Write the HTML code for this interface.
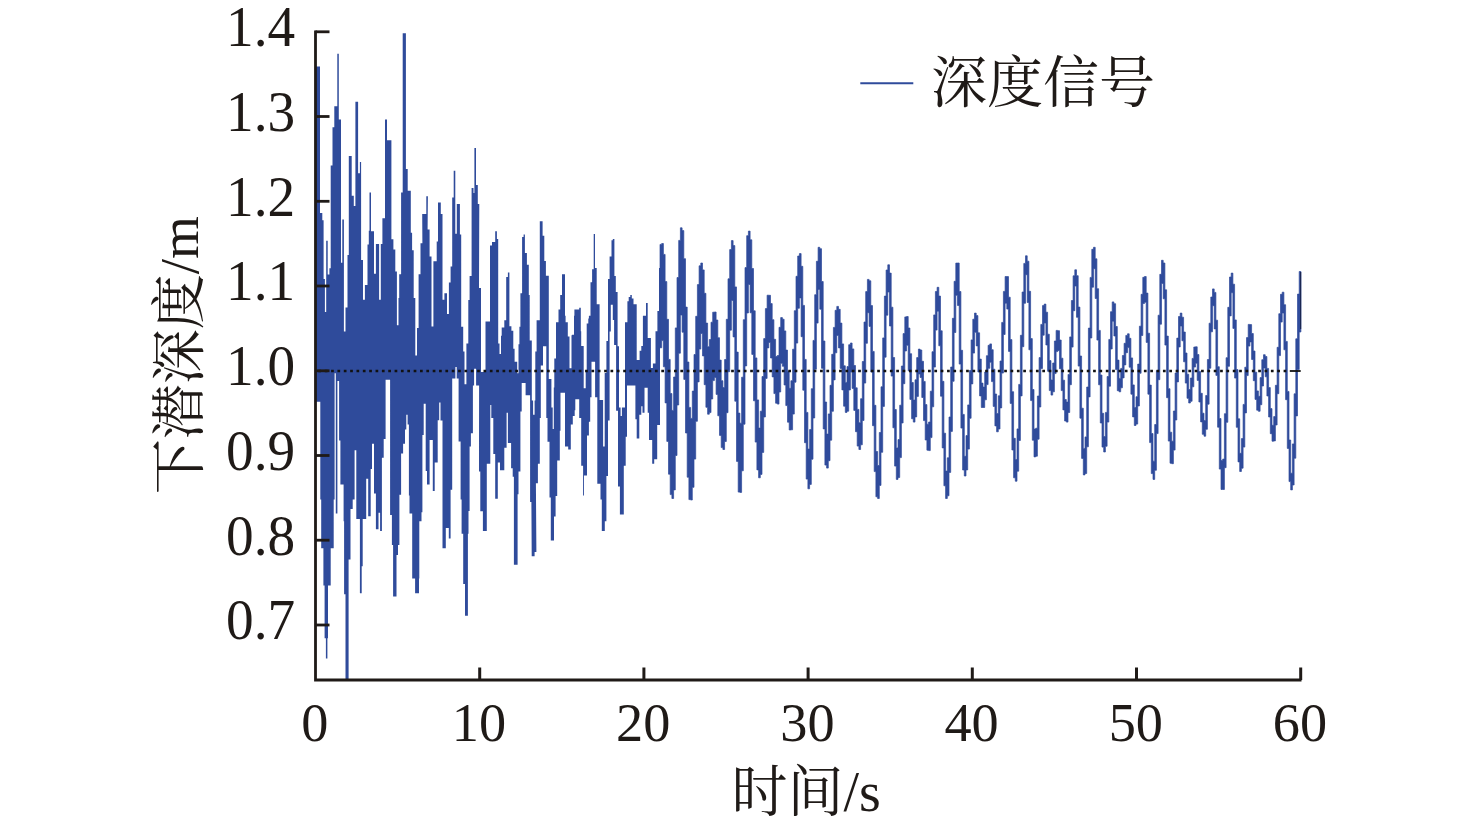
<!DOCTYPE html>
<html lang="zh"><head><meta charset="utf-8"><title>深度信号</title>
<style>html,body{margin:0;padding:0;background:#fff}body{width:1476px;height:828px;overflow:hidden;font-family:"Liberation Serif",serif}svg{display:block}</style>
</head><body>
<svg width="1476" height="828" viewBox="0 0 1476 828">
<rect width="1476" height="828" fill="#fff"/>
<polygon points="315.7,66.6 320,66.6 320,213.1 322.3,213.1 322.3,220.2 323.6,220.2 323.6,279 324.9,279 324.9,311.9 326.2,311.9 326.2,240.8 327.7,240.8 327.7,274.5 329.4,274.5 329.4,268.3 330.7,268.3 330.7,165.4 332.5,165.4 332.5,127.2 334.3,127.2 334.3,106.3 337.3,106.3 337.3,53.8 338.8,53.8 338.8,119.4 341,119.4 341,262.8 342.3,262.8 342.3,219.5 343.9,219.5 343.9,331.6 345.5,331.6 345.5,307.4 347.5,307.4 347.5,255.1 348.8,255.1 348.8,156.1 351.7,156.1 351.7,195.7 353.8,195.7 353.8,206 355.4,206 355.4,101.8 358.1,101.8 358.1,173.3 359.9,173.3 359.9,162 361.1,162 361.1,260 363,260 363,299.7 364.9,299.7 364.9,285.1 367.5,285.1 367.5,244.5 368.8,244.5 368.8,230.8 369.5,230.8 369.5,192.4 371,192.4 371,231.2 374,231.2 374,273.8 375.9,273.8 375.9,244.1 379.1,244.1 379.1,299.7 380.8,299.7 380.8,244.1 382.4,244.1 382.4,218.2 385,218.2 385,119.4 387,119.4 387,140.2 391.4,140.2 391.4,239.3 393.4,239.3 393.4,249.6 395.3,249.6 395.3,271.6 396.9,271.6 396.9,325.2 398.5,325.2 398.5,298 399.2,298 399.2,274.2 401.1,274.2 401.1,192.4 402.7,192.4 402.7,33.3 405.9,33.3 405.9,168.9 407.7,168.9 407.7,190.8 410.8,190.8 410.8,232.8 412.1,232.8 412.1,250.2 413.7,250.2 413.7,298 415.3,298 415.3,355.6 417,355.6 417,328.1 418.6,328.1 418.6,274.2 420.5,274.2 420.5,243.2 422.4,243.2 422.2,214 426.3,214 426.3,196.3 427.9,196.3 427.6,229.5 429.6,229.5 429.6,256.6 431.5,256.6 431.5,326.4 433.4,326.4 433.4,261.3 436.7,261.3 436.7,241.5 438,241.5 438,202.5 440.8,202.5 440.8,214 442.5,214 442.5,299.7 444.4,299.7 444.4,293.2 447,293.2 447,313.9 448.9,313.9 448.9,282.5 450.6,282.5 450.6,266.4 452.2,266.4 452.2,197.6 453.7,197.6 453.7,170.7 455.3,170.7 455.3,233.7 456.8,233.7 456.8,204 459.9,204 459.9,234.4 461.2,234.4 461.2,326.8 463.2,326.8 463.2,351.4 464.5,351.4 464.5,384.3 466.4,384.3 466.4,343.6 468.3,343.6 468.3,300 469.6,300 469.6,276 471.6,276 471.6,187.9 473.5,187.9 473.5,193 474.4,193 474.4,148 476,148 476,185 477.8,185 477.8,204 479.3,204 479,288 481,288 481,372 485.5,372 485.5,321.6 490,321.6 490,245.4 492,245.4 492,242.1 495.2,242.1 495.2,231.2 496.9,231.2 496.9,238.9 498.2,238.9 498.2,343.6 499.5,343.6 499.5,353.9 501,353.9 501,335.8 501.7,335.8 501.7,327.4 504.3,327.4 504.3,320.3 506.2,320.3 506.2,277 507.9,277 507.9,272.5 509.4,272.5 509.4,326.2 511.4,326.2 511.4,330.7 513.3,330.7 513.3,348.8 514.6,348.8 514.6,361.7 517.2,361.7 517.2,373.3 518.5,373.3 518.5,344.2 519.4,344.2 519.4,326.8 520.4,326.8 520.4,293.2 522.1,293.2 522.1,237 523.6,237 523.6,234.4 524.9,234.4 524.9,253.1 526.9,253.1 526.9,264.8 528.8,264.8 528.8,295.1 529.7,295.1 529.7,340.4 531.8,340.4 531.8,400.5 533.1,400.5 533.1,414.7 534.6,414.7 534.6,400.5 535.3,400.5 535.3,351.6 536.6,351.6 536.6,320.3 538.2,320.3 538.2,320.3 539.8,320.3 539.8,221.2 542.6,221.2 542.6,235.7 544.3,235.7 544.3,260.9 545.9,260.9 545.9,275.7 548.8,275.7 548.8,379.1 551.4,379.1 551.4,407.6 552.7,407.6 552.7,428.9 553.8,428.9 553.8,387.5 554.3,387.5 554.3,358.5 556,358.5 556,322.3 558.5,322.3 558.5,309.4 560.2,309.4 560.2,295.1 562,295.1 562,274.2 565,274.2 565,315.8 565.6,315.8 565.6,322.3 567.8,322.3 567.8,336.5 569.5,336.5 569.5,368.2 571.5,368.2 571.5,335.2 572.1,335.2 572.1,334.8 574,334.8 574,315.8 574.4,315.8 574.4,309.4 579.2,309.4 579.2,307.8 580.8,307.8 580.8,331.3 581.2,331.3 581.2,345.9 583.7,345.9 583.7,388.2 585.7,388.2 585.7,370.1 586.7,370.1 586.7,323.6 588.3,323.6 588.3,318.4 588.9,318.4 588.9,315.8 590.5,315.8 590.5,282.2 592.1,282.2 592.1,269.3 593.7,269.3 593.7,234.1 595,234.1 595,268 596.7,268 596.7,304.2 599.6,304.2 599.6,400 603.1,400 603.1,446.4 604.7,446.4 604.7,372.9 606.4,372.9 606.4,341 608,341 608,279 609.6,279 609.6,256.6 611.5,256.6 611.5,240.2 612.8,240.2 612.8,238.9 614.4,238.9 614.4,276 615.8,276 615.8,291.9 617.6,291.9 617.6,346.2 619,346.2 619,407.6 620.6,407.6 620.6,416 621.9,416 621.9,407.6 625,407.6 625,322.3 627.4,322.3 627.4,301.3 628.7,301.3 628.7,297.1 630.3,297.1 630.3,295.1 631.8,295.1 631.8,298.4 633.5,298.4 633.5,304.2 636.7,304.2 636.7,360 639.6,360 639.6,350.7 641.3,350.7 641.3,345.9 642.9,345.9 642.9,315.8 646,315.8 646,303.1 647.7,303.1 647.7,338 650.9,338 650.9,368 652.9,368 652.9,363.6 655.5,363.6 655.5,331.3 657.4,331.3 657.4,310.9 659,310.9 659,268 660,268 660,425 657.2,425 657.2,459.3 654.2,459.3 654.2,463.8 652.2,463.8 652.2,439.9 649,439.9 649,412.8 647.7,412.8 647.7,387.8 644.5,387.8 644.5,412.8 642.5,412.8 642.5,406.3 641.3,406.3 641.3,414.7 639.3,414.7 639.3,438.6 636.7,438.6 636.7,419.2 635.4,419.2 635.4,385.6 627,385.6 627,436.7 625.7,436.7 625.7,465.7 623.8,465.7 623.8,514.6 619.9,514.6 619.9,486.4 618,486.4 618,410.8 616.1,410.8 616.1,345 614.1,345 614.1,320 612.8,320 612.8,304.7 610.8,304.7 610.8,331.5 609.6,331.5 609.6,420.5 608,420.5 608,476.1 606.4,476.1 606.4,521.3 604.8,521.3 604.8,531 601.8,531 601.8,499.4 600.5,499.4 600.5,483.8 597.3,483.8 597.3,397.2 595.1,397.2 595.1,361.7 591.5,361.7 591.5,397.2 590.2,397.2 590.2,421.8 588.9,421.8 588.9,435.4 587,435.4 587,475.4 584,475.4 584,495.5 583.1,495.5 583.1,465.7 581.2,465.7 581.2,417.9 579.2,417.9 579.2,399.2 575.3,399.2 575.3,410.2 574.7,410.2 574.7,416 572.8,416 572.8,424.4 570.8,424.4 570.8,449.6 568.2,449.6 568.2,446.4 565,446.4 565,392.7 560.5,392.7 560.5,430.8 559.8,430.8 559.8,460.6 557.2,460.6 557.2,496.1 555.6,496.1 555.6,516.5 554,516.5 554,540.5 550.8,540.5 550.8,497.4 549.5,497.4 549.5,441.8 547.5,441.8 547.5,417.9 546.3,417.9 546.3,346.2 543,346.2 543,365.6 540.8,365.6 540.8,417.9 539.8,417.9 539.8,463.8 537.9,463.8 537.9,483.2 535.9,483.2 536.4,552.1 534.6,552.1 534.6,556.2 531.7,556.2 531.4,501.9 530.1,501.9 530.1,395.3 525.6,395.3 525.6,383 521.7,383 521.7,411.5 520.4,411.5 520.4,471.6 518.5,471.6 518.5,494.2 517.6,494.2 517.6,564.8 513.9,564.8 513.9,476.7 512.7,476.7 512.7,468.3 511.1,468.3 511.1,443.1 507.9,443.1 507.9,412.8 506.6,412.8 506.6,447.7 504.3,447.7 504.3,470.3 500,470.3 500,462.5 497.8,462.5 497.8,498.7 495.2,498.7 495.2,454.1 493.3,454.1 493.3,417.9 491.3,417.9 491.3,405 490.3,405 490.3,463.8 486.8,463.8 486.8,531 482.9,531 482.9,511.2 480.3,511.2 480.3,471.6 479,471.6 479.1,385.6 476.1,385.6 476.1,368.8 474.1,368.8 474.1,385.6 472.9,385.6 472.9,433.2 470.9,433.2 470.9,446.6 469.6,446.6 469.6,510.9 468.5,510.9 468.5,533.7 467.9,533.7 467.9,615.7 465,615.7 465,584.1 463.2,584.1 463.2,533.7 461.6,533.7 461.6,499.6 460.6,499.6 460.6,441.4 458.6,441.4 458.6,378.5 456.7,378.5 456.7,366.9 455.4,366.9 455.4,378.5 452.2,378.5 452.2,489.7 450.6,489.7 450.6,538.6 448.8,538.6 448.8,528 445.8,528 445.8,548.3 442.5,548.3 442.5,420.5 440.5,420.5 440.5,402.4 439.2,402.4 439.2,420.3 437.7,420.3 437.7,462.5 434.7,462.5 434.7,491 432.8,491 432.8,439.9 429.6,439.9 429.6,484.5 427,484.5 427,470.9 425.7,470.9 425.7,403.7 423.7,403.7 423.7,435 422.4,435 422.4,512.3 421.5,512.3 421.5,521.3 419.3,521.3 419.3,578.6 419,578.6 419,593.2 415.1,593.2 415.1,578.6 412.2,578.6 412.2,513.4 409.5,513.4 409.5,495.5 408.9,495.5 408.9,424.6 407.6,424.6 407.6,414.7 406.3,414.7 406.3,429.6 405,429.6 405,443.8 403.1,443.8 403.1,453.5 401.1,453.5 401.1,494.8 399.4,494.8 399.4,545 398,545 398,555.1 396.5,555.1 396.5,596.5 393.1,596.5 393.1,545 391.9,545 391.9,515 390.1,515 390.1,379.8 385.6,379.8 385.6,438.9 383.7,438.9 383.7,457.7 381.9,457.7 381.9,531 380.1,531 380.1,512.8 378.5,512.8 378.5,529.2 375.9,529.2 375.9,493.5 374,493.5 374,443.8 372,443.8 372,469 370.7,469 370.7,516.2 368.2,516.2 368.2,478.7 366.2,478.7 366.2,519 362.7,519 362.7,566.3 361.7,566.3 361.7,593.2 359.9,593.2 359.9,519 356.3,519 356.3,450.2 354.6,450.2 354.6,499.4 352.7,499.4 352.7,509 350.5,509 350.5,559.5 348.6,559.5 348.6,679 345.5,679 345.5,594.3 344.1,594.3 344.1,521.3 343.6,521.3 343.6,484.5 340.4,484.5 340.4,440.5 339.1,440.5 339.1,381 337.4,381 337.4,513.4 335.8,513.4 335.8,373.3 334.6,373.3 334.6,499.4 333.7,499.4 333.7,548.3 330.7,548.3 330.7,585.4 328,585.4 328,638.2 327.4,638.2 327.4,658.5 325.9,658.5 325.9,638.2 324.6,638.2 324.6,585.4 323.4,585.4 323.4,548.3 321.2,548.3 321.2,499.4 320.3,499.4 320.3,401.8 317.1,401.8 317.1,401.8 315.7,401.8" fill="#2f4b9b"/>
<polygon points="660,244.4 661.7,244.4 661.7,243.5 663.4,243.5 663.4,254.4 665.1,254.4 665.1,281.6 666.8,281.6 666.8,319.3 668.5,319.3 668.5,359.4 670.2,359.4 670.2,393.5 671.9,393.5 671.9,410.4 673.6,410.4 673.6,377 675.3,377 675.3,327.9 677,327.9 677,277.5 678.7,277.5 678.7,240.4 680.4,240.4 680.4,227.8 682.1,227.8 682.1,230.6 683.8,230.6 683.8,258.7 685.5,258.7 685.5,307.1 687.2,307.1 687.2,362 688.9,362 688.9,407.4 690.6,407.4 690.6,418.4 692.3,418.4 692.3,391.1 694,391.1 694,354.5 695.7,354.5 695.7,316.3 697.4,316.3 697.4,284.6 699.1,284.6 699.1,265.8 700.8,265.8 700.8,263 702.5,263 702.5,269.9 704.2,269.9 704.2,293.3 705.9,293.3 705.9,323.1 707.6,323.1 707.6,346.7 709.3,346.7 709.3,339.5 711,339.5 711,322.2 712.7,322.2 712.7,312.2 714.4,312.2 714.4,312 716.1,312 716.1,320 717.8,320 717.8,337.7 719.5,337.7 719.5,360.1 721.2,360.1 721.2,380.7 722.9,380.7 722.9,387.6 724.6,387.6 724.6,359.5 726.3,359.5 726.3,319.3 728,319.3 728,278.8 729.7,278.8 729.7,249.6 731.4,249.6 731.4,240.6 733.1,240.6 733.1,245.6 734.8,245.6 734.8,286.9 736.5,286.9 736.5,352.1 738.2,352.1 738.2,413.1 739.9,413.1 739.9,423.2 741.6,423.2 741.6,377.2 743.3,377.2 743.3,319.7 745,319.7 745,267.6 746.7,267.6 746.7,235.7 748.4,235.7 748.4,231.1 750.1,231.1 750.1,239.8 751.8,239.8 751.8,268.5 753.5,268.5 753.5,310.8 755.2,310.8 755.2,357.9 756.9,357.9 756.9,399.9 758.6,399.9 758.6,428.1 760.3,428.1 760.3,411.2 762,411.2 762,376.5 763.7,376.5 763.7,338.6 765.4,338.6 765.4,308.6 767.1,308.6 767.1,295.2 768.8,295.2 768.8,295.3 770.5,295.3 770.5,303.6 772.2,303.6 772.2,319.7 773.9,319.7 773.9,339.3 775.6,339.3 775.6,356.5 777.3,356.5 777.3,355.5 779,355.5 779,327.3 780.7,327.3 780.7,317.6 782.4,317.6 782.4,319.2 784.1,319.2 784.1,330.9 785.8,330.9 785.8,350.1 787.5,350.1 787.5,371.3 789.2,371.3 789.2,388.3 790.9,388.3 790.9,380.7 792.6,380.7 792.6,349.2 794.3,349.2 794.3,310.7 796,310.7 796,276.3 797.7,276.3 797.7,256 799.4,256 799.4,253.6 801.1,253.6 801.1,266.3 802.8,266.3 802.8,305.4 804.5,305.4 804.5,359.4 806.2,359.4 806.2,412.4 807.9,412.4 807.9,449.1 809.6,449.1 809.6,429.6 811.3,429.6 811.3,388.7 813,388.7 813,340.4 814.7,340.4 814.7,294.7 816.4,294.7 816.4,261.3 818.1,261.3 818.1,247.3 819.8,247.3 819.8,248.7 821.5,248.7 821.5,281.5 823.2,281.5 823.2,341 824.9,341 824.9,402 826.6,402 826.6,434.1 828.3,434.1 828.3,413.9 830,413.9 830,385.3 831.7,385.3 831.7,354.3 833.4,354.3 833.4,327.4 835.1,327.4 835.1,310.3 836.8,310.3 836.8,306.4 838.5,306.4 838.5,309.3 840.2,309.3 840.2,323.1 841.9,323.1 841.9,343.9 843.6,343.9 843.6,365.8 845.3,365.8 845.3,382.4 847,382.4 847,366.5 848.7,366.5 848.7,344.7 850.4,344.7 850.4,343 852.1,343 852.1,348.9 853.8,348.9 853.8,365.5 855.5,365.5 855.5,387.8 857.2,387.8 857.2,409.4 858.9,409.4 858.9,422.7 860.6,422.7 860.6,398.7 862.3,398.7 862.3,361.5 864,361.5 864,322 865.7,322 865.7,291.6 867.4,291.6 867.4,279.4 869.1,279.4 869.1,280.8 870.8,280.8 870.8,305.6 872.5,305.6 872.5,351.4 874.2,351.4 874.2,405.3 875.9,405.3 875.9,451.5 877.6,451.5 877.6,465.5 879.3,465.5 879.3,432.5 881,432.5 881,386.8 882.7,386.8 882.7,337.9 884.4,337.9 884.4,296.1 886.1,296.1 886.1,270 887.8,270 887.8,264.8 889.5,264.8 889.5,273.1 891.2,273.1 891.2,307.2 892.9,307.2 892.9,357.5 894.6,357.5 894.6,409.5 896.3,409.5 896.3,447.9 898,447.9 898,439.6 899.7,439.6 899.7,405.2 901.4,405.2 901.4,366 903.1,366 903.1,333.6 904.8,333.6 904.8,316.9 906.5,316.9 906.5,316.5 908.2,316.5 908.2,328 909.9,328 909.9,353.7 911.6,353.7 911.6,382.5 913.3,382.5 913.3,400.1 915,400.1 915,379.8 916.7,379.8 916.7,357.6 918.4,357.6 918.4,349.1 920.1,349.1 920.1,350 921.8,350 921.8,361.3 923.5,361.3 923.5,381.4 925.2,381.4 925.2,404.6 926.9,404.6 926.9,424.2 928.6,424.2 928.6,422 930.3,422 930.3,391.2 932,391.2 932,351.7 933.7,351.7 933.7,314.9 935.4,314.9 935.4,291.5 937.1,291.5 937.1,287.3 938.8,287.3 938.8,296.1 940.5,296.1 940.5,330.8 942.2,330.8 942.2,381.3 943.9,381.3 943.9,433.2 945.6,433.2 945.6,471.1 947.3,471.1 947.3,457.8 949,457.8 949,417 950.7,417 950.7,367 952.4,367 952.4,318.3 954.1,318.3 954.1,281.3 955.8,281.3 955.8,263.1 957.5,263.1 957.5,263 959.2,263 959.2,291.5 960.9,291.5 960.9,350.3 962.6,350.3 962.6,414.4 964.3,414.4 964.3,456.3 966,456.3 966,435.6 967.7,435.6 967.7,404.9 969.4,404.9 969.4,370.5 971.1,370.5 971.1,339.9 972.8,339.9 972.8,319.2 974.5,319.2 974.5,313.1 976.2,313.1 976.2,315.6 977.9,315.6 977.9,332.8 979.6,332.8 979.6,359.1 981.3,359.1 981.3,383.1 983,383.1 983,387.1 984.7,387.1 984.7,372 986.4,372 986.4,355.7 988.1,355.7 988.1,345.3 989.8,345.3 989.8,343.9 991.5,343.9 991.5,349.7 993.2,349.7 993.2,369.2 994.9,369.2 994.9,394 996.6,394 996.6,413.6 998.3,413.6 998.3,395.8 1000,395.8 1000,361 1001.7,361 1001.7,322.4 1003.4,322.4 1003.4,291.4 1005.1,291.4 1005.1,276.5 1006.8,276.5 1006.8,276.6 1008.5,276.6 1008.5,297.2 1010.2,297.2 1010.2,339.6 1011.9,339.6 1011.9,391.7 1013.6,391.7 1013.6,438.3 1015.3,438.3 1015.3,459.6 1017,459.6 1017,428.9 1018.7,428.9 1018.7,384.4 1020.4,384.4 1020.4,335.3 1022.1,335.3 1022.1,292 1023.8,292 1023.8,263.4 1025.5,263.4 1025.5,255.8 1027.2,255.8 1027.2,261.2 1028.9,261.2 1028.9,291.3 1030.6,291.3 1030.6,338.6 1032.3,338.6 1032.3,389.5 1034,389.5 1034,429.1 1035.7,429.1 1035.7,428.2 1037.4,428.2 1037.4,396 1039.1,396 1039.1,357.6 1040.8,357.6 1040.8,324.4 1042.5,324.4 1042.5,305.6 1044.2,305.6 1044.2,304.1 1045.9,304.1 1045.9,312.2 1047.6,312.2 1047.6,334.2 1049.3,334.2 1049.3,360.6 1051,360.6 1051,379.9 1052.7,379.9 1052.7,363 1054.4,363 1054.4,341 1056.1,341 1056.1,330.4 1057.8,330.4 1057.8,330.7 1059.5,330.7 1059.5,340 1061.2,340 1061.2,358.2 1062.9,358.2 1062.9,380.2 1064.6,380.2 1064.6,399.5 1066.3,399.5 1066.3,402.1 1068,402.1 1068,374.4 1069.7,374.4 1069.7,336.9 1071.4,336.9 1071.4,300.5 1073.1,300.5 1073.1,275.8 1074.8,275.8 1074.8,269.8 1076.5,269.8 1076.5,275.7 1078.2,275.7 1078.2,307.1 1079.9,307.1 1079.9,356 1081.6,356 1081.6,408.2 1083.3,408.2 1083.3,448.4 1085,448.4 1085,436.9 1086.7,436.9 1086.7,387 1088.4,387 1088.4,328.1 1090.1,328.1 1090.1,277.4 1091.8,277.4 1091.8,249.3 1093.5,249.3 1093.5,247.3 1095.2,247.3 1095.2,258.8 1096.9,258.8 1096.9,288.7 1098.6,288.7 1098.6,330.4 1100.3,330.4 1100.3,375 1102,375 1102,413.3 1103.7,413.3 1103.7,436.6 1105.4,436.6 1105.4,412.4 1107.1,412.4 1107.1,376.5 1108.8,376.5 1108.8,339.4 1110.5,339.4 1110.5,311.7 1112.2,311.7 1112.2,301.9 1113.9,301.9 1113.9,303.7 1115.6,303.7 1115.6,326.5 1117.3,326.5 1117.3,360.1 1119,360.1 1119,378.4 1120.7,378.4 1120.7,368.4 1122.4,368.4 1122.4,355.5 1124.1,355.5 1124.1,343.3 1125.8,343.3 1125.8,335.4 1127.5,335.4 1127.5,333.8 1129.2,333.8 1129.2,338.3 1130.9,338.3 1130.9,357.9 1132.6,357.9 1132.6,384.9 1134.3,384.9 1134.3,407.6 1136,407.6 1136,396.7 1137.7,396.7 1137.7,364.1 1139.4,364.1 1139.4,326.2 1141.1,326.2 1141.1,294.3 1142.8,294.3 1142.8,277.3 1144.5,277.3 1144.5,276.5 1146.2,276.5 1146.2,293.1 1147.9,293.1 1147.9,333.2 1149.6,333.2 1149.6,385.1 1151.3,385.1 1151.3,433.5 1153,433.5 1153,461.2 1154.7,461.2 1154.7,424.5 1156.4,424.5 1156.4,370.6 1158.1,370.6 1158.1,315.2 1159.8,315.2 1159.8,274.3 1161.5,274.3 1161.5,260.3 1163.2,260.3 1163.2,263 1164.9,263 1164.9,289.8 1166.6,289.8 1166.6,336.1 1168.3,336.1 1168.3,388.7 1170,388.7 1170,432.2 1171.7,432.2 1171.7,441.2 1173.4,441.2 1173.4,411 1175.1,411 1175.1,373 1176.8,373 1176.8,338.1 1178.5,338.1 1178.5,316.5 1180.2,316.5 1180.2,313.1 1181.9,313.1 1181.9,317.2 1183.6,317.2 1183.6,332 1185.3,332 1185.3,353 1187,353 1187,374.2 1188.7,374.2 1188.7,389.5 1190.4,389.5 1190.4,378 1192.1,378 1192.1,358.4 1193.8,358.4 1193.8,347 1195.5,347 1195.5,346.8 1197.2,346.8 1197.2,354.5 1198.9,354.5 1198.9,371.6 1200.6,371.6 1200.6,393.3 1202.3,393.3 1202.3,413.2 1204,413.2 1204,420.6 1205.7,420.6 1205.7,395.5 1207.4,395.5 1207.4,359.5 1209.1,359.5 1209.1,323.2 1210.8,323.2 1210.8,297 1212.5,297 1212.5,288.9 1214.2,288.9 1214.2,292.4 1215.9,292.4 1215.9,320.2 1217.6,320.2 1217.6,366.7 1219.3,366.7 1219.3,418.5 1221,418.5 1221,460.5 1222.7,460.5 1222.7,459.1 1224.4,459.1 1224.4,413.7 1226.1,413.7 1226.1,357.7 1227.8,357.7 1227.8,307.3 1229.5,307.3 1229.5,277 1231.2,277 1231.2,273.1 1232.9,273.1 1232.9,284.2 1234.6,284.2 1234.6,319.9 1236.3,319.9 1236.3,369.6 1238,369.6 1238,418.8 1239.7,418.8 1239.7,453.3 1241.4,453.3 1241.4,438.6 1243.1,438.6 1243.1,404.4 1244.8,404.4 1244.8,367.2 1246.5,367.2 1246.5,337.6 1248.2,337.6 1248.2,324.4 1249.9,324.4 1249.9,324.6 1251.6,324.6 1251.6,333.5 1253.3,333.5 1253.3,351 1255,351 1255,372.2 1256.7,372.2 1256.7,390.9 1258.4,390.9 1258.4,396.3 1260.1,396.3 1260.1,377.6 1261.8,377.6 1261.8,359.7 1263.5,359.7 1263.5,354.7 1265.2,354.7 1265.2,356.5 1266.9,356.5 1266.9,368.4 1268.6,368.4 1268.6,387.6 1270.3,387.6 1270.3,408.6 1272,408.6 1272,425.3 1273.7,425.3 1273.7,416.6 1275.4,416.6 1275.4,385.3 1277.1,385.3 1277.1,347.3 1278.8,347.3 1278.8,313.7 1280.5,313.7 1280.5,294.3 1282.2,294.3 1282.2,292.2 1283.9,292.2 1283.9,304.7 1285.6,304.7 1285.6,341.4 1287.3,341.4 1287.3,391.4 1289,391.4 1289,440 1290.7,440 1290.7,473.2 1292.4,473.2 1292.4,443.9 1294.1,443.9 1294.1,393.8 1295.8,393.8 1295.8,338.8 1297.5,338.8 1297.5,294.1 1299.2,294.1 1299.2,271.5 1300.9,271.5 1300.9,332 1299.2,332 1299.2,369.6 1297.5,369.6 1297.5,415.9 1295.8,415.9 1295.8,458.2 1294.1,458.2 1294.1,485 1292.4,485 1292.4,489.9 1290.7,489.9 1290.7,481.6 1289,481.6 1289,448.4 1287.3,448.4 1287.3,399.7 1285.6,399.7 1285.6,349.8 1283.9,349.8 1283.9,313.1 1282.2,313.1 1282.2,322.1 1280.5,322.1 1280.5,355.6 1278.8,355.6 1278.8,393.7 1277.1,393.7 1277.1,425 1275.4,425 1275.4,440.9 1273.7,440.9 1273.7,441.2 1272,441.2 1272,433.7 1270.3,433.7 1270.3,417 1268.6,417 1268.6,396 1266.9,396 1266.9,376.8 1265.2,376.8 1265.2,368.1 1263.5,368.1 1263.5,386 1261.8,386 1261.8,404.7 1260.1,404.7 1260.1,411.3 1258.4,411.3 1258.4,410.2 1256.7,410.2 1256.7,399.4 1255,399.4 1255,380.7 1253.3,380.7 1253.3,359.5 1251.6,359.5 1251.6,341.9 1249.9,341.9 1249.9,346.1 1248.2,346.1 1248.2,375.6 1246.5,375.6 1246.5,412.9 1244.8,412.9 1244.8,447.1 1243.1,447.1 1243.1,468.2 1241.4,468.2 1241.4,471.5 1239.7,471.5 1239.7,461.9 1238,461.9 1238,427.3 1236.3,427.3 1236.3,378.1 1234.6,378.1 1234.6,328.4 1232.9,328.4 1232.9,292.7 1231.2,292.7 1231.2,315.9 1229.5,315.9 1229.5,366.3 1227.8,366.3 1227.8,422.3 1226.1,422.3 1226.1,467.7 1224.4,467.7 1224.4,489.5 1222.7,489.5 1222.7,489.5 1221,489.5 1221,469.1 1219.3,469.1 1219.3,427.2 1217.6,427.2 1217.6,375.4 1215.9,375.4 1215.9,328.9 1214.2,328.9 1214.2,305.7 1212.5,305.7 1212.5,331.8 1210.8,331.8 1210.8,368.2 1209.1,368.2 1209.1,404.2 1207.4,404.2 1207.4,429.3 1205.7,429.3 1205.7,436.2 1204,436.2 1204,434.3 1202.3,434.3 1202.3,421.9 1200.6,421.9 1200.6,402 1198.9,402 1198.9,380.4 1197.2,380.4 1197.2,363.2 1195.5,363.2 1195.5,367.1 1193.8,367.1 1193.8,386.8 1192.1,386.8 1192.1,401.3 1190.4,401.3 1190.4,403 1188.7,403 1188.7,398.3 1187,398.3 1187,383.1 1185.3,383.1 1185.3,361.8 1183.6,361.8 1183.6,340.8 1181.9,340.8 1181.9,326.1 1180.2,326.1 1180.2,347 1178.5,347 1178.5,381.9 1176.8,381.9 1176.8,420 1175.1,420 1175.1,450.1 1173.4,450.1 1173.4,463.7 1171.7,463.7 1171.7,463.2 1170,463.2 1170,441.1 1168.3,441.1 1168.3,397.7 1166.6,397.7 1166.6,345.1 1164.9,345.1 1164.9,298.8 1163.2,298.8 1163.2,283.4 1161.5,283.4 1161.5,324.2 1159.8,324.2 1159.8,379.7 1158.1,379.7 1158.1,433.6 1156.4,433.6 1156.4,470.3 1154.7,470.3 1154.7,479.4 1153,479.4 1153,473.6 1151.3,473.6 1151.3,442.6 1149.6,442.6 1149.6,394.2 1147.9,394.2 1147.9,342.4 1146.2,342.4 1146.2,302.3 1144.5,302.3 1144.5,303.5 1142.8,303.5 1142.8,335.5 1141.1,335.5 1141.1,373.3 1139.4,373.3 1139.4,406 1137.7,406 1137.7,424.1 1136,424.1 1136,425.5 1134.3,425.5 1134.3,416.9 1132.6,416.9 1132.6,394.2 1130.9,394.2 1130.9,367.2 1129.2,367.2 1129.2,347.6 1127.5,347.6 1127.5,352.7 1125.8,352.7 1125.8,364.9 1124.1,364.9 1124.1,377.9 1122.4,377.9 1122.4,387.8 1120.7,387.8 1120.7,391.8 1119,391.8 1119,390.7 1117.3,390.7 1117.3,369.6 1115.6,369.6 1115.6,336 1113.9,336 1113.9,321.3 1112.2,321.3 1112.2,349 1110.5,349 1110.5,386.2 1108.8,386.2 1108.8,422.1 1107.1,422.1 1107.1,446.3 1105.4,446.3 1105.4,452 1103.7,452 1103.7,447.1 1102,447.1 1102,423 1100.3,423 1100.3,384.8 1098.6,384.8 1098.6,340.1 1096.9,340.1 1096.9,298.5 1095.2,298.5 1095.2,268.7 1093.5,268.7 1093.5,287.2 1091.8,287.2 1091.8,338 1090.1,338 1090.1,396.9 1088.4,396.9 1088.4,446.8 1086.7,446.8 1086.7,473.5 1085,473.5 1085,474.9 1083.3,474.9 1083.3,458.4 1081.6,458.4 1081.6,418.2 1079.9,418.2 1079.9,366.1 1078.2,366.1 1078.2,317.3 1076.5,317.3 1076.5,286 1074.8,286 1074.8,310.7 1073.1,310.7 1073.1,347.1 1071.4,347.1 1071.4,384.7 1069.7,384.7 1069.7,412.5 1068,412.5 1068,422.1 1066.3,422.1 1066.3,421 1064.6,421 1064.6,409.9 1062.9,409.9 1062.9,390.6 1061.2,390.6 1061.2,368.7 1059.5,368.7 1059.5,350.5 1057.8,350.5 1057.8,351.6 1056.1,351.6 1056.1,373.6 1054.4,373.6 1054.4,391.8 1052.7,391.8 1052.7,395.1 1051,395.1 1051,390.6 1049.3,390.6 1049.3,371.3 1047.6,371.3 1047.6,345 1045.9,345 1045.9,323.1 1044.2,323.1 1044.2,335.2 1042.5,335.2 1042.5,368.5 1040.8,368.5 1040.8,407 1039.1,407 1039.1,439.2 1037.4,439.2 1037.4,456.2 1035.7,456.2 1035.7,456.9 1034,456.9 1034,440.2 1032.3,440.2 1032.3,400.6 1030.6,400.6 1030.6,349.8 1028.9,349.8 1028.9,302.5 1027.2,302.5 1027.2,274.7 1025.5,274.7 1025.5,303.3 1023.8,303.3 1023.8,346.7 1022.1,346.7 1022.1,395.9 1020.4,395.9 1020.4,440.5 1018.7,440.5 1018.7,471.2 1017,471.2 1017,481.2 1015.3,481.2 1015.3,477.8 1013.6,477.8 1013.6,450 1011.9,450 1011.9,403.4 1010.2,403.4 1010.2,351.4 1008.5,351.4 1008.5,309.1 1006.8,309.1 1006.8,303.3 1005.1,303.3 1005.1,334.5 1003.4,334.5 1003.4,373.1 1001.7,373.1 1001.7,407.9 1000,407.9 1000,429 998.3,429 998.3,431.8 996.6,431.8 996.6,425.9 994.9,425.9 994.9,406.4 993.2,406.4 993.2,381.6 991.5,381.6 991.5,362.2 989.8,362.2 989.8,368.3 988.1,368.3 988.1,384.6 986.4,384.6 986.4,399.8 984.7,399.8 984.7,407.5 983,407.5 983,407.5 981.3,407.5 981.3,395.9 979.6,395.9 979.6,372 977.9,372 977.9,345.9 976.2,345.9 976.2,332.3 974.5,332.3 974.5,353.1 972.8,353.1 972.8,383.9 971.1,383.9 971.1,418.3 969.4,418.3 969.4,449.1 967.7,449.1 967.7,469.9 966,469.9 966,476 964.3,476 964.3,470 962.6,470 962.6,428.1 960.9,428.1 960.9,364.1 959.2,364.1 959.2,305.5 957.5,305.5 957.5,295.3 955.8,295.3 955.8,332.5 954.1,332.5 954.1,381.3 952.4,381.3 952.4,431.4 950.7,431.4 950.7,472.4 949,472.4 949,495.8 947.3,495.8 947.3,498.5 945.6,498.5 945.6,485.8 943.9,485.8 943.9,447.9 942.2,447.9 942.2,396.2 940.5,396.2 940.5,345.8 938.8,345.8 938.8,311.2 937.1,311.2 937.1,330.1 935.4,330.1 935.4,367.1 933.7,367.1 933.7,406.8 932,406.8 932,437.6 930.3,437.6 930.3,450.6 928.6,450.6 928.6,450.2 926.9,450.2 926.9,440 925.2,440 925.2,420.6 923.5,420.6 923.5,397.5 921.8,397.5 921.8,377.5 920.1,377.5 920.1,374 918.4,374 918.4,396.4 916.7,396.4 916.7,416.9 915,416.9 915,422.1 913.3,422.1 913.3,418.8 911.6,418.8 911.6,399.4 909.9,399.4 909.9,370.8 908.2,370.8 908.2,345.3 906.5,345.3 906.5,351 904.8,351 904.8,383.7 903.1,383.7 903.1,423 901.4,423 901.4,457.6 899.7,457.6 899.7,477.5 898,477.5 898,479.4 896.3,479.4 896.3,466.1 894.6,466.1 894.6,427.8 892.9,427.8 892.9,376.1 891.2,376.1 891.2,326 889.5,326 889.5,292 887.8,292 887.8,315.2 886.1,315.2 886.1,357.2 884.4,357.2 884.4,406.4 882.7,406.4 882.7,452.3 881,452.3 881,485.4 879.3,485.4 879.3,498.5 877.6,498.5 877.6,496.8 875.9,496.8 875.9,471.6 874.2,471.6 874.2,425.7 872.5,425.7 872.5,372 870.8,372 870.8,326.4 869.1,326.4 869.1,312.7 867.4,312.7 867.4,343.3 865.7,343.3 865.7,383.1 864,383.1 864,420.5 862.3,420.5 862.3,444.8 860.6,444.8 860.6,449.5 858.9,449.5 858.9,446.1 857.2,446.1 857.2,431.7 855.5,431.7 855.5,410.4 853.8,410.4 853.8,388.4 852.1,388.4 852.1,372 850.4,372 850.4,390 848.7,390 848.7,411.2 847,411.2 847,412.4 845.3,412.4 845.3,406.2 843.6,406.2 843.6,389.9 841.9,389.9 841.9,368.4 840.2,368.4 840.2,347.9 838.5,347.9 838.5,335.4 836.8,335.4 836.8,352.8 835.1,352.8 835.1,379.9 833.4,379.9 833.4,411.3 831.7,411.3 831.7,440.2 830,440.2 830,460.7 828.3,460.7 828.3,468.1 826.6,468.1 826.6,465.1 824.9,465.1 824.9,428.9 823.2,428.9 823.2,368.3 821.5,368.3 821.5,309.2 819.8,309.2 819.8,289.4 818.1,289.4 818.1,323.1 816.4,323.1 816.4,369.2 814.7,369.2 814.7,418 813,418 813,459.2 811.3,459.2 811.3,484.4 809.6,484.4 809.6,488.8 807.9,488.8 807.9,479.1 806.2,479.1 806.2,442.7 804.5,442.7 804.5,390.2 802.8,390.2 802.8,336.7 801.1,336.7 801.1,297.9 799.4,297.9 799.4,308.3 797.7,308.3 797.7,343.1 796,343.1 796,382.2 794.3,382.2 794.3,414.1 792.6,414.1 792.6,429.8 790.9,429.8 790.9,430 789.2,430 789.2,422.2 787.5,422.2 787.5,405.6 785.8,405.6 785.8,385 784.1,385 784.1,366.3 782.4,366.3 782.4,363.3 780.7,363.3 780.7,392 779,392 779,404.1 777.3,404.1 777.3,403.2 775.6,403.2 775.6,393.6 773.9,393.6 773.9,376.9 772.2,376.9 772.2,358 770.5,358 770.5,342.4 768.8,342.4 768.8,347.9 767.1,347.9 767.1,378.4 765.4,378.4 765.4,417 763.7,417 763.7,452.4 762,452.4 762,474.4 760.3,474.4 760.3,477.8 758.6,477.8 758.6,469.9 756.9,469.9 756.9,442.1 755.2,442.1 755.2,400.8 753.5,400.8 753.5,354.4 751.8,354.4 751.8,312.8 750.1,312.8 750.1,284.5 748.4,284.5 748.4,313 746.7,313 746.7,365.9 745,365.9 745,424.2 743.3,424.2 743.3,470.8 741.6,470.8 741.6,492.4 739.9,492.4 739.9,492.1 738.2,492.1 738.2,461.4 736.5,461.4 736.5,401.2 734.8,401.2 734.8,336.9 733.1,336.9 733.1,300.4 731.4,300.4 731.4,330.2 729.7,330.2 729.7,371.7 728,371.7 728,412.7 726.3,412.7 726.3,441.5 724.6,441.5 724.6,449.5 722.9,449.5 722.9,447.6 721.2,447.6 721.2,435.4 719.5,435.4 719.5,415.8 717.8,415.8 717.8,394.4 716.1,394.4 716.1,377.4 714.4,377.4 714.4,380.6 712.7,380.6 712.7,399 711,399 711,412.6 709.3,412.6 709.3,414.2 707.6,414.2 707.6,407.3 705.9,407.3 705.9,384.7 704.2,384.7 704.2,355.9 702.5,355.9 702.5,333.5 700.8,333.5 700.8,349.1 699.1,349.1 699.1,381.9 697.4,381.9 697.4,421.3 695.7,421.3 695.7,459.1 694,459.1 694,487.3 692.3,487.3 692.3,500 690.6,500 690.6,499.6 688.9,499.6 688.9,477.2 687.2,477.2 687.2,433 685.5,433 685.5,379.4 683.8,379.4 683.8,332.2 682.1,332.2 682.1,315 680.4,315 680.4,353.2 678.7,353.2 678.7,405 677,405 677,455.5 675.3,455.5 675.3,489.9 673.6,489.9 673.6,498.5 671.9,498.5 671.9,494.6 670.2,494.6 670.2,474.2 668.5,474.2 668.5,441.4 666.8,441.4 666.8,402.9 665.1,402.9 665.1,366.8 663.4,366.8 663.4,340.6 661.7,340.6 661.7,347.8 660,347.8" fill="#2f4b9b" stroke="#2f4b9b" stroke-width="0.7" stroke-linejoin="miter"/>
<line x1="1300.6" y1="272" x2="1300.6" y2="329" stroke="#1b2752" stroke-width="1.2"/>
<line x1="318.4" y1="371" x2="1289.5" y2="371" stroke="#111" stroke-width="2.6" stroke-dasharray="2.7,3.65"/>
<line x1="1289.8" y1="371" x2="1300.7" y2="371" stroke="#111" stroke-width="1.8"/>
<path d="M315.5 30.5V680H1301.5" fill="none" stroke="#1f1a17" stroke-width="2.8" stroke-linejoin="miter"/>
<line x1="315.5" y1="31.8" x2="329.5" y2="31.8" stroke="#1f1a17" stroke-width="2.8"/>
<line x1="315.5" y1="116.5" x2="329.5" y2="116.5" stroke="#1f1a17" stroke-width="2.8"/>
<line x1="315.5" y1="201.3" x2="329.5" y2="201.3" stroke="#1f1a17" stroke-width="2.8"/>
<line x1="315.5" y1="286" x2="329.5" y2="286" stroke="#1f1a17" stroke-width="2.8"/>
<line x1="315.5" y1="370.8" x2="329.5" y2="370.8" stroke="#1f1a17" stroke-width="2.8"/>
<line x1="315.5" y1="455.5" x2="329.5" y2="455.5" stroke="#1f1a17" stroke-width="2.8"/>
<line x1="315.5" y1="540.2" x2="329.5" y2="540.2" stroke="#1f1a17" stroke-width="2.8"/>
<line x1="315.5" y1="625" x2="329.5" y2="625" stroke="#1f1a17" stroke-width="2.8"/>
<line x1="479.7" y1="667.5" x2="479.7" y2="680" stroke="#1f1a17" stroke-width="3"/>
<line x1="643.9" y1="667.5" x2="643.9" y2="680" stroke="#1f1a17" stroke-width="3"/>
<line x1="808.1" y1="667.5" x2="808.1" y2="680" stroke="#1f1a17" stroke-width="3"/>
<line x1="972.3" y1="667.5" x2="972.3" y2="680" stroke="#1f1a17" stroke-width="3"/>
<line x1="1136.5" y1="667.5" x2="1136.5" y2="680" stroke="#1f1a17" stroke-width="3"/>
<line x1="1300.7" y1="667.5" x2="1300.7" y2="680" stroke="#1f1a17" stroke-width="3"/>
<g font-family="'Liberation Serif',serif" font-size="56.6" fill="#1f1a17">
<text transform="translate(295.2,46.1) scale(0.977,1)" text-anchor="end">1.4</text>
<text transform="translate(295.2,130.8) scale(0.977,1)" text-anchor="end">1.3</text>
<text transform="translate(295.2,215.6) scale(0.977,1)" text-anchor="end">1.2</text>
<text transform="translate(295.2,300.3) scale(0.977,1)" text-anchor="end">1.1</text>
<text transform="translate(295.2,385.1) scale(0.977,1)" text-anchor="end">1.0</text>
<text transform="translate(295.2,469.8) scale(0.977,1)" text-anchor="end">0.9</text>
<text transform="translate(295.2,554.5) scale(0.977,1)" text-anchor="end">0.8</text>
<text transform="translate(295.2,639.3) scale(0.977,1)" text-anchor="end">0.7</text>
<text transform="translate(314.8,741) scale(0.977,1)" font-size="55.6" text-anchor="middle">0</text>
<text transform="translate(479,741) scale(0.977,1)" font-size="55.6" text-anchor="middle">10</text>
<text transform="translate(643.2,741) scale(0.977,1)" font-size="55.6" text-anchor="middle">20</text>
<text transform="translate(807.4,741) scale(0.977,1)" font-size="55.6" text-anchor="middle">30</text>
<text transform="translate(971.6,741) scale(0.977,1)" font-size="55.6" text-anchor="middle">40</text>
<text transform="translate(1135.8,741) scale(0.977,1)" font-size="55.6" text-anchor="middle">50</text>
<text transform="translate(1300,741) scale(0.977,1)" font-size="55.6" text-anchor="middle">60</text>
</g>
<line x1="860.3" y1="83.2" x2="913.3" y2="83.2" stroke="#2f4b9b" stroke-width="2"/>
<text x="931" y="102" font-family="'Liberation Serif','Noto Serif CJK SC',serif" font-size="56" fill="#1f1a17">深度信号</text>
<text x="731.4" y="811.4" font-family="'Liberation Serif','Noto Serif CJK SC',serif" font-size="56" fill="#1f1a17">时间</text>
<text x="843.4" y="811.4" font-family="'Liberation Serif',serif" font-size="56" fill="#1f1a17">/s</text>
<text transform="translate(198.4,494.3) rotate(-90)" font-family="'Liberation Serif','Noto Serif CJK SC',serif" font-size="55" fill="#1f1a17">下潜深度</text>
<text transform="translate(198.4,274.3) rotate(-90)" font-family="'Liberation Serif',serif" font-size="55" fill="#1f1a17">/m</text>
</svg>
</body></html>
